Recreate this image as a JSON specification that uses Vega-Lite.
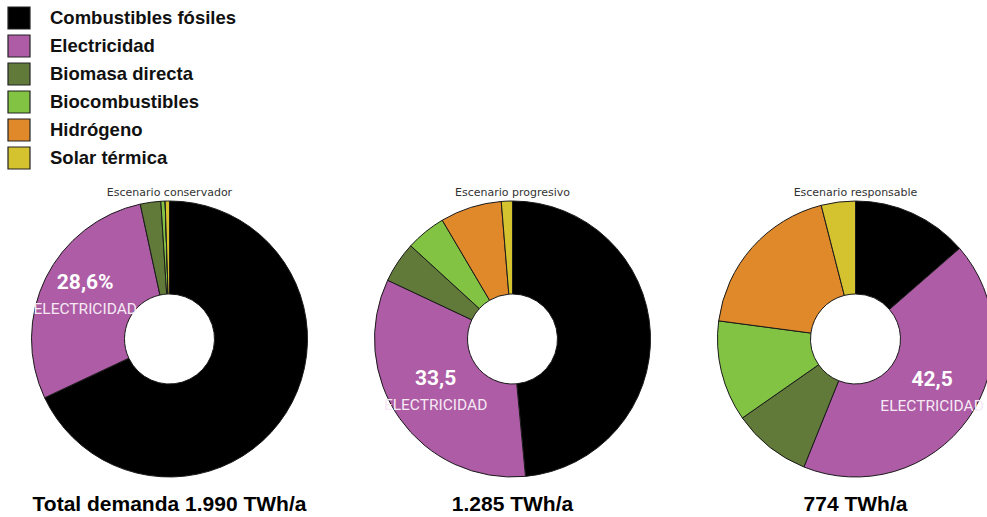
{
  "$schema": "https://vega.github.io/schema/vega-lite/v6.json",
  "padding": {"left": 7, "top": 6, "right": 0, "bottom": 0},
  "background": "white",
  "config": {"view": {"stroke": null}},
  "data": {"values": [
    {"escenario": "Escenario conservador", "total": "Total demanda 1.990 TWh/a", "fuente": "Combustibles fósiles", "orden": 1, "valor": 68.0, "etiqueta": "", "etiqueta2": ""},
    {"escenario": "Escenario conservador", "total": "Total demanda 1.990 TWh/a", "fuente": "Electricidad", "orden": 2, "valor": 28.6, "etiqueta": "28,6%", "etiqueta2": "ELECTRICIDAD"},
    {"escenario": "Escenario conservador", "total": "Total demanda 1.990 TWh/a", "fuente": "Biomasa directa", "orden": 3, "valor": 2.4, "etiqueta": "", "etiqueta2": ""},
    {"escenario": "Escenario conservador", "total": "Total demanda 1.990 TWh/a", "fuente": "Biocombustibles", "orden": 4, "valor": 0.5, "etiqueta": "", "etiqueta2": ""},
    {"escenario": "Escenario conservador", "total": "Total demanda 1.990 TWh/a", "fuente": "Hidrógeno", "orden": 5, "valor": 0.0, "etiqueta": "", "etiqueta2": ""},
    {"escenario": "Escenario conservador", "total": "Total demanda 1.990 TWh/a", "fuente": "Solar térmica", "orden": 6, "valor": 0.5, "etiqueta": "", "etiqueta2": ""},
    {"escenario": "Escenario progresivo", "total": "1.285 TWh/a", "fuente": "Combustibles fósiles", "orden": 1, "valor": 48.5, "etiqueta": "", "etiqueta2": ""},
    {"escenario": "Escenario progresivo", "total": "1.285 TWh/a", "fuente": "Electricidad", "orden": 2, "valor": 33.5, "etiqueta": "33,5", "etiqueta2": "ELECTRICIDAD"},
    {"escenario": "Escenario progresivo", "total": "1.285 TWh/a", "fuente": "Biomasa directa", "orden": 3, "valor": 4.8, "etiqueta": "", "etiqueta2": ""},
    {"escenario": "Escenario progresivo", "total": "1.285 TWh/a", "fuente": "Biocombustibles", "orden": 4, "valor": 4.7, "etiqueta": "", "etiqueta2": ""},
    {"escenario": "Escenario progresivo", "total": "1.285 TWh/a", "fuente": "Hidrógeno", "orden": 5, "valor": 7.2, "etiqueta": "", "etiqueta2": ""},
    {"escenario": "Escenario progresivo", "total": "1.285 TWh/a", "fuente": "Solar térmica", "orden": 6, "valor": 1.3, "etiqueta": "", "etiqueta2": ""},
    {"escenario": "Escenario responsable", "total": "774 TWh/a", "fuente": "Combustibles fósiles", "orden": 1, "valor": 13.6, "etiqueta": "", "etiqueta2": ""},
    {"escenario": "Escenario responsable", "total": "774 TWh/a", "fuente": "Electricidad", "orden": 2, "valor": 42.5, "etiqueta": "42,5", "etiqueta2": "ELECTRICIDAD"},
    {"escenario": "Escenario responsable", "total": "774 TWh/a", "fuente": "Biomasa directa", "orden": 3, "valor": 9.2, "etiqueta": "", "etiqueta2": ""},
    {"escenario": "Escenario responsable", "total": "774 TWh/a", "fuente": "Biocombustibles", "orden": 4, "valor": 11.8, "etiqueta": "", "etiqueta2": ""},
    {"escenario": "Escenario responsable", "total": "774 TWh/a", "fuente": "Hidrógeno", "orden": 5, "valor": 18.9, "etiqueta": "", "etiqueta2": ""},
    {"escenario": "Escenario responsable", "total": "774 TWh/a", "fuente": "Solar térmica", "orden": 6, "valor": 4.0, "etiqueta": "", "etiqueta2": ""}
  ]},
  "facet": {
    "column": {
      "field": "total", "type": "nominal",
      "sort": ["Total demanda 1.990 TWh/a", "1.285 TWh/a", "774 TWh/a"],
      "header": {"title": null, "labelOrient": "bottom", "labelFont": "Liberation Sans", "labelFontSize": 21, "labelFontWeight": "bold", "labelColor": "#000000", "labelPadding": 5}
    }
  },
  "spacing": 18,
  "spec": {
    "width": 325,
    "height": 300,
    "layer": [
      {
        "mark": {"type": "arc", "outerRadius": 138, "innerRadius": 45, "stroke": "#1a1a1a", "strokeWidth": 1},
        "encoding": {
          "theta": {"field": "valor", "type": "quantitative", "stack": true},
          "order": {"field": "orden", "type": "quantitative"},
          "color": {
            "field": "fuente", "type": "nominal",
            "scale": {
              "domain": ["Combustibles fósiles", "Electricidad", "Biomasa directa", "Biocombustibles", "Hidrógeno", "Solar térmica"],
              "range": ["#000000", "#ad5ca5", "#617a3a", "#82c343", "#e0892a", "#d4c22e"]
            },
            "legend": {
              "orient": "top", "direction": "vertical", "title": null,
              "symbolType": "square", "symbolSize": 484, "symbolStrokeColor": "#222222", "symbolStrokeWidth": 1.2, "symbolOpacity": 1,
              "labelFont": "Liberation Sans", "labelFontSize": 18.5, "labelFontWeight": "bold", "labelColor": "#111111", "labelLimit": 400,
              "labelOffset": 19, "rowPadding": 0, "offset": 15
            }
          }
        }
      },
      {
        "mark": {"type": "text", "radius": 94, "dy": -14, "font": "Roboto", "fontSize": 21, "fontWeight": "bold", "fill": "#ffffff"},
        "encoding": {
          "theta": {"field": "valor", "type": "quantitative", "stack": true},
          "order": {"field": "orden", "type": "quantitative"},
          "text": {"field": "etiqueta", "type": "nominal"}
        }
      },
      {
        "mark": {"type": "text", "radius": 94, "dy": 12, "font": "Roboto", "fontSize": 15.5, "fill": "#f6e9f4"},
        "encoding": {
          "theta": {"field": "valor", "type": "quantitative", "stack": true},
          "order": {"field": "orden", "type": "quantitative"},
          "text": {"field": "etiqueta2", "type": "nominal"}
        }
      },
      {
        "transform": [{"filter": "datum.orden == 1"}],
        "mark": {"type": "text", "baseline": "bottom", "font": "DejaVu Sans", "fontSize": 11, "fill": "#333333"},
        "encoding": {
          "theta": {"value": 0},
          "radius": {"value": 141},
          "text": {"field": "escenario", "type": "nominal"}
        }
      }
    ]
  }
}
